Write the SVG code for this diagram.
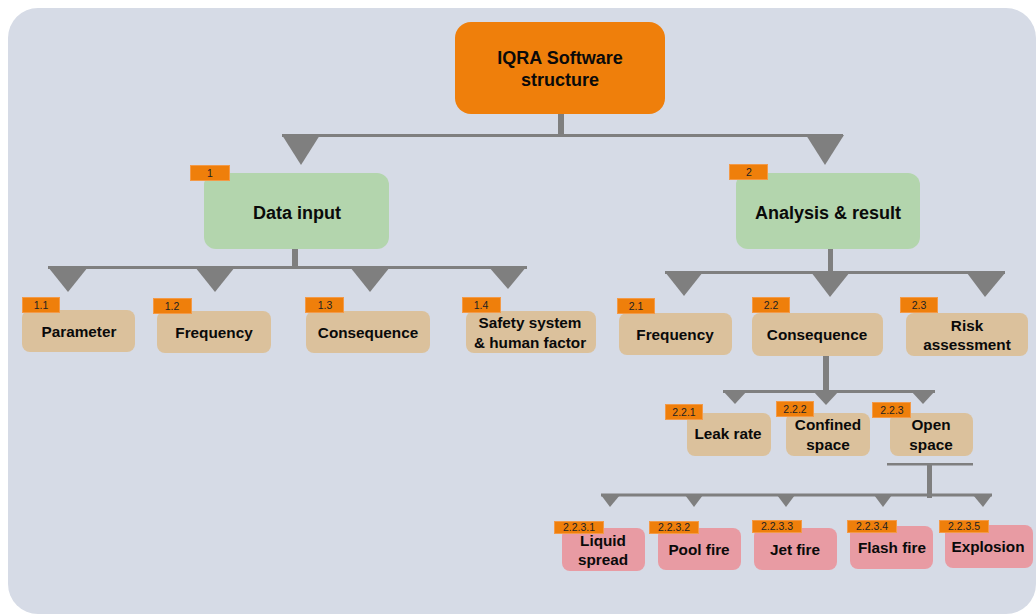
<svg xmlns="http://www.w3.org/2000/svg" width="1036" height="614" viewBox="0 0 1036 614">
  <style>
    .bg { fill: #d6dbe6; }
    .root { fill: #ef7f0b; }
    .lvl1 { fill: #b3d5ad; }
    .lvl2 { fill: #dbc19c; }
    .lvl4 { fill: #e89ba3; }
    .badge { fill: #ef7f0b; stroke: #f39a48; stroke-width: 1; }
    .bar { fill: #7f7f7f; }
    .tri { fill: #7f7f7f; }
    .t18 { font-family: "Liberation Sans", Arial, sans-serif; font-weight: bold; font-size: 18px; fill: #0a0a0a; text-anchor: middle; }
    .t15 { font-family: "Liberation Sans", Arial, sans-serif; font-weight: bold; font-size: 15.3px; fill: #0a0a0a; text-anchor: middle; }
    .tb { font-family: "Liberation Sans", Arial, sans-serif; font-size: 10.5px; fill: #222; text-anchor: middle; }
  </style>

  <!-- panel -->
  <rect class="bg" x="8" y="8" width="1028" height="606" rx="30"/>

  <!-- connectors -->
  <g id="connectors">
    <!-- root to level 1 -->
    <rect class="bar" x="558" y="113" width="6" height="23"/>
    <rect class="bar" x="282" y="134" width="561" height="3"/>
    <polygon class="tri" points="282,135 320,135 301,165"/>
    <polygon class="tri" points="806,135 844,135 825,165"/>
    <!-- data input branch -->
    <rect class="bar" x="292" y="248" width="6" height="21"/>
    <rect class="bar" x="48" y="266" width="479" height="3"/>
    <polygon class="tri" points="48,267 88,267 68,292"/>
    <polygon class="tri" points="195,267 235,267 215,292"/>
    <polygon class="tri" points="350,267 390,267 370,292"/>
    <polygon class="tri" points="488,266 527,266 508,289"/>
    <!-- analysis branch -->
    <rect class="bar" x="828" y="248" width="5" height="25"/>
    <rect class="bar" x="665" y="271" width="340" height="3"/>
    <polygon class="tri" points="665,272 703,272 684,296"/>
    <polygon class="tri" points="811,272 850,272 830,297"/>
    <polygon class="tri" points="967,273 1005,273 985,297"/>
    <!-- consequence branch -->
    <rect class="bar" x="823" y="355" width="6" height="37"/>
    <rect class="bar" x="723" y="390" width="212" height="3"/>
    <polygon class="tri" points="723,391 747,391 735,404"/>
    <polygon class="tri" points="813,391 839,391 826,405"/>
    <polygon class="tri" points="911,391 935,391 923,404"/>
    <!-- open space branch -->
    <rect class="bar" x="887" y="463" width="86" height="2.5"/>
    <rect class="bar" x="927" y="464" width="5" height="34"/>
    <rect class="bar" x="601" y="493.5" width="391" height="3"/>
    <polygon class="tri" points="601,495 620,495 610,507"/>
    <polygon class="tri" points="685,495 703,495 694,507"/>
    <polygon class="tri" points="777,495 795,495 786,507"/>
    <polygon class="tri" points="874,495 892,495 883,507"/>
    <polygon class="tri" points="973,495 992,495 983,507"/>
  </g>

  <!-- root -->
  <g id="node-root">
    <rect class="root" x="455" y="22" width="210" height="92" rx="16"/>
    <text class="t18" x="560" y="64">IQRA Software</text>
    <text class="t18" x="560" y="86">structure</text>
  </g>

  <!-- level 1 -->
  <g id="node-1">
    <rect class="lvl1" x="204" y="173" width="185" height="76" rx="12"/>
    <rect class="badge" x="190.5" y="165.5" width="39" height="15"/>
    <text class="tb" x="210" y="177">1</text>
    <text class="t18" x="297" y="219">Data input</text>
  </g>
  <g id="node-2">
    <rect class="lvl1" x="736" y="173" width="184" height="76" rx="12"/>
    <rect class="badge" x="729.5" y="164.5" width="38" height="15"/>
    <text class="tb" x="749" y="176">2</text>
    <text class="t18" x="828" y="219">Analysis &amp; result</text>
  </g>

  <!-- level 2 -->
  <g id="node-1-1">
    <rect class="lvl2" x="22" y="310" width="113" height="42" rx="8"/>
    <rect class="badge" x="22.5" y="297.5" width="37" height="15"/>
    <text class="tb" x="41" y="309">1.1</text>
    <text class="t15" x="79" y="337">Parameter</text>
  </g>
  <g id="node-1-2">
    <rect class="lvl2" x="157" y="311" width="114" height="42" rx="8"/>
    <rect class="badge" x="153.5" y="298.5" width="38" height="15"/>
    <text class="tb" x="172" y="310">1.2</text>
    <text class="t15" x="214" y="338">Frequency</text>
  </g>
  <g id="node-1-3">
    <rect class="lvl2" x="306" y="311" width="124" height="42" rx="8"/>
    <rect class="badge" x="305.5" y="297.5" width="38" height="15"/>
    <text class="tb" x="325" y="309">1.3</text>
    <text class="t15" x="368" y="338">Consequence</text>
  </g>
  <g id="node-1-4">
    <rect class="lvl2" x="466" y="311" width="130" height="42" rx="8"/>
    <rect class="badge" x="462.5" y="297.5" width="38" height="15"/>
    <text class="tb" x="481" y="309">1.4</text>
    <text class="t15" x="530" y="328">Safety system</text>
    <text class="t15" x="530" y="348">&amp; human factor</text>
  </g>
  <g id="node-2-1">
    <rect class="lvl2" x="619" y="313" width="113" height="42" rx="8"/>
    <rect class="badge" x="617.5" y="298.5" width="37" height="15"/>
    <text class="tb" x="636" y="310">2.1</text>
    <text class="t15" x="675" y="340">Frequency</text>
  </g>
  <g id="node-2-2">
    <rect class="lvl2" x="752" y="313" width="131" height="43" rx="8"/>
    <rect class="badge" x="752.5" y="297.5" width="37" height="15"/>
    <text class="tb" x="771" y="309">2.2</text>
    <text class="t15" x="817" y="340">Consequence</text>
  </g>
  <g id="node-2-3">
    <rect class="lvl2" x="906" y="313" width="122" height="43" rx="8"/>
    <rect class="badge" x="900.5" y="297.5" width="37" height="15"/>
    <text class="tb" x="919" y="309">2.3</text>
    <text class="t15" x="967" y="331">Risk</text>
    <text class="t15" x="967" y="350">assessment</text>
  </g>

  <!-- level 3 -->
  <g id="node-2-2-1">
    <rect class="lvl2" x="687" y="413" width="84" height="43" rx="8"/>
    <rect class="badge" x="665.5" y="404.5" width="37" height="15"/>
    <text class="tb" x="684" y="416">2.2.1</text>
    <text class="t15" x="728" y="439">Leak rate</text>
  </g>
  <g id="node-2-2-2">
    <rect class="lvl2" x="786" y="413" width="84" height="43" rx="8"/>
    <rect class="badge" x="776.5" y="401.5" width="37" height="15"/>
    <text class="tb" x="795" y="413">2.2.2</text>
    <text class="t15" x="828" y="430">Confined</text>
    <text class="t15" x="828" y="450">space</text>
  </g>
  <g id="node-2-2-3">
    <rect class="lvl2" x="890" y="413" width="83" height="43" rx="8"/>
    <rect class="badge" x="872.5" y="402.5" width="38" height="15"/>
    <text class="tb" x="892" y="414">2.2.3</text>
    <text class="t15" x="931" y="430">Open</text>
    <text class="t15" x="931" y="450">space</text>
  </g>

  <!-- level 4 -->
  <g id="node-2-2-3-1">
    <rect class="lvl4" x="562" y="528" width="83" height="43" rx="8"/>
    <rect class="badge" x="554.5" y="521.5" width="49" height="12"/>
    <text class="tb" x="579" y="531">2.2.3.1</text>
    <text class="t15" x="603" y="546">Liquid</text>
    <text class="t15" x="603" y="565">spread</text>
  </g>
  <g id="node-2-2-3-2">
    <rect class="lvl4" x="658" y="528" width="83" height="42" rx="8"/>
    <rect class="badge" x="649.5" y="521.5" width="49" height="12"/>
    <text class="tb" x="674" y="531">2.2.3.2</text>
    <text class="t15" x="699" y="555">Pool fire</text>
  </g>
  <g id="node-2-2-3-3">
    <rect class="lvl4" x="754" y="528" width="83" height="42" rx="8"/>
    <rect class="badge" x="752.5" y="520.5" width="49" height="12"/>
    <text class="tb" x="777" y="530">2.2.3.3</text>
    <text class="t15" x="795" y="555">Jet fire</text>
  </g>
  <g id="node-2-2-3-4">
    <rect class="lvl4" x="850" y="526" width="83" height="43" rx="8"/>
    <rect class="badge" x="847.5" y="520.5" width="49" height="12"/>
    <text class="tb" x="872" y="530">2.2.3.4</text>
    <text class="t15" x="892" y="553">Flash fire</text>
  </g>
  <g id="node-2-2-3-5">
    <rect class="lvl4" x="945" y="525" width="88" height="43" rx="8"/>
    <rect class="badge" x="939.5" y="520.5" width="49" height="12"/>
    <text class="tb" x="964" y="530">2.2.3.5</text>
    <text class="t15" x="988" y="552">Explosion</text>
  </g>
</svg>
